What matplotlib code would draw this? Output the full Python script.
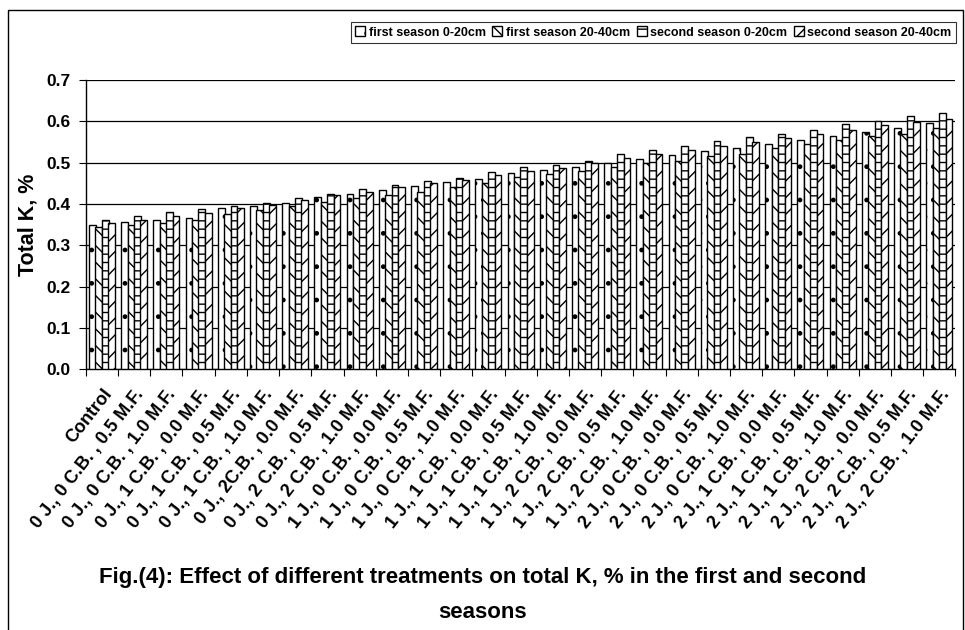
import numpy as np
import matplotlib
matplotlib.use('Agg')
import matplotlib.pyplot as plt
from matplotlib.patches import Rectangle

plt.rcParams['font.family'] = ['Liberation Sans', 'DejaVu Sans']
plt.rcParams['font.weight'] = 'bold'
plt.rcParams['hatch.linewidth'] = 1.0

# treatments on x axis
treatments = ['Control',
              '0 J., 0 C.B. , 0.5 M.F.', '0 J., 0 C.B. , 1.0 M.F.',
              '0 J., 1 C.B. , 0.0 M.F.', '0 J., 1 C.B. , 0.5 M.F.', '0 J., 1 C.B. , 1.0 M.F.',
              '0 J., 2C.B. , 0.0 M.F.', '0 J., 2 C.B. , 0.5 M.F.', '0 J., 2 C.B. , 1.0 M.F.',
              '1 J., 0 C.B. , 0.0 M.F.', '1 J., 0 C.B. , 0.5 M.F.', '1 J., 0 C.B. , 1.0 M.F.',
              '1 J., 1 C.B. , 0.0 M.F.', '1 J., 1 C.B. , 0.5 M.F.', '1 J., 1 C.B. , 1.0 M.F.',
              '1 J., 2 C.B. , 0.0 M.F.', '1 J., 2 C.B. , 0.5 M.F.', '1 J., 2 C.B. , 1.0 M.F.',
              '2 J., 0 C.B. , 0.0 M.F.', '2 J., 0 C.B. , 0.5 M.F.', '2 J., 0 C.B. , 1.0 M.F.',
              '2 J., 1 C.B. , 0.0 M.F.', '2 J., 1 C.B. , 0.5 M.F.', '2 J., 1 C.B. , 1.0 M.F.',
              '2 J., 2 C.B. , 0.0 M.F.', '2 J., 2 C.B. , 0.5 M.F.', '2 J., 2 C.B. , 1.0 M.F.']

# total K %
first_0_20 = [0.350, 0.357, 0.362, 0.367, 0.390, 0.395, 0.403, 0.418, 0.425, 0.433,
              0.443, 0.452, 0.460, 0.475, 0.483, 0.490, 0.500, 0.508, 0.518, 0.527,
              0.535, 0.545, 0.555, 0.565, 0.575, 0.585, 0.595]
first_20_40 = [0.345, 0.350, 0.355, 0.360, 0.375, 0.385, 0.395, 0.405, 0.415, 0.422,
               0.430, 0.440, 0.450, 0.465, 0.472, 0.480, 0.490, 0.500, 0.505, 0.515,
               0.520, 0.535, 0.545, 0.555, 0.565, 0.570, 0.585]
second_0_20 = [0.360, 0.372, 0.380, 0.388, 0.395, 0.402, 0.415, 0.425, 0.435, 0.445,
               0.455, 0.463, 0.477, 0.490, 0.495, 0.505, 0.520, 0.530, 0.540, 0.553,
               0.562, 0.570, 0.580, 0.593, 0.600, 0.612, 0.620]
second_20_40 = [0.355, 0.360, 0.370, 0.377, 0.390, 0.398, 0.410, 0.422, 0.430, 0.440,
                0.450, 0.458, 0.470, 0.480, 0.488, 0.498, 0.510, 0.520, 0.530, 0.540,
                0.550, 0.560, 0.570, 0.580, 0.592, 0.598, 0.605]

series = [first_0_20, first_20_40, second_0_20, second_20_40]
names = ['first season 0-20cm', 'first season 20-40cm', 'second season 0-20cm', 'second season 20-40cm']
hatches = ['.', '\\\\', '--', '//']

fig = plt.figure(figsize=(9.65, 6.3), dpi=100)
ax = fig.add_axes([0.089, 0.414, 0.901, 0.459])

x = np.arange(len(treatments))
w = 0.21
for i, (vals, nm, h) in enumerate(zip(series, names, hatches)):
    ax.bar(x + (i - 1.5) * 0.2, vals, w, color='white', edgecolor='black',
           linewidth=1.0, hatch=h, label=nm, zorder=3)

ax.set_xlim(-0.5, len(treatments) - 0.5)
ax.set_ylim(0, 0.7)
ax.set_yticks(np.arange(0, 0.71, 0.1))
ax.set_yticklabels(['%.1f' % v for v in np.arange(0, 0.71, 0.1)], fontsize=12.5, fontweight='bold')
ax.yaxis.grid(True, color='black', linewidth=0.9, zorder=0)
ax.set_axisbelow(True)

# ticks between categories, labels at centers
ax.set_xticks(np.arange(-0.5, len(treatments)), minor=False)
ax.set_xticklabels([])
ax.set_xticks(x, minor=True)
ax.set_xticklabels(treatments, minor=True, rotation=52, ha='right',
                   rotation_mode='anchor', fontsize=13, fontweight='bold')
ax.tick_params(axis='x', which='minor', length=0, pad=12)
ax.tick_params(axis='x', which='major', length=5, direction='out')
ax.tick_params(axis='y', length=5, direction='out', pad=6)

for s in ['top', 'right']:
    ax.spines[s].set_visible(False)
ax.spines['left'].set_linewidth(1.0)
ax.spines['bottom'].set_linewidth(1.0)

ax.set_ylabel('Total K, %', fontsize=15.5, fontweight='bold', labelpad=6)

leg = fig.legend(loc='upper right', bbox_to_anchor=(0.997, 0.975), ncol=4,
                 frameon=True, fancybox=False, edgecolor='black',
                 handlelength=0.8, handleheight=0.8, handletextpad=0.3,
                 columnspacing=0.5, borderpad=0.35, prop={'weight': 'bold', 'size': 9})
leg.get_frame().set_linewidth(0.8)

fig.text(0.5, 0.084, 'Fig.(4): Effect of different treatments on total K, % in the first and second',
         ha='center', va='center', fontsize=16, fontweight='bold')
fig.text(0.5, 0.028, 'seasons', ha='center', va='center', fontsize=16, fontweight='bold')

# outer frame of the figure
fig.patches.append(Rectangle((0.008, -0.02), 0.99, 1.004, transform=fig.transFigure,
                             fill=False, edgecolor='black', linewidth=1.0))

fig.savefig('out.png', dpi=100)
